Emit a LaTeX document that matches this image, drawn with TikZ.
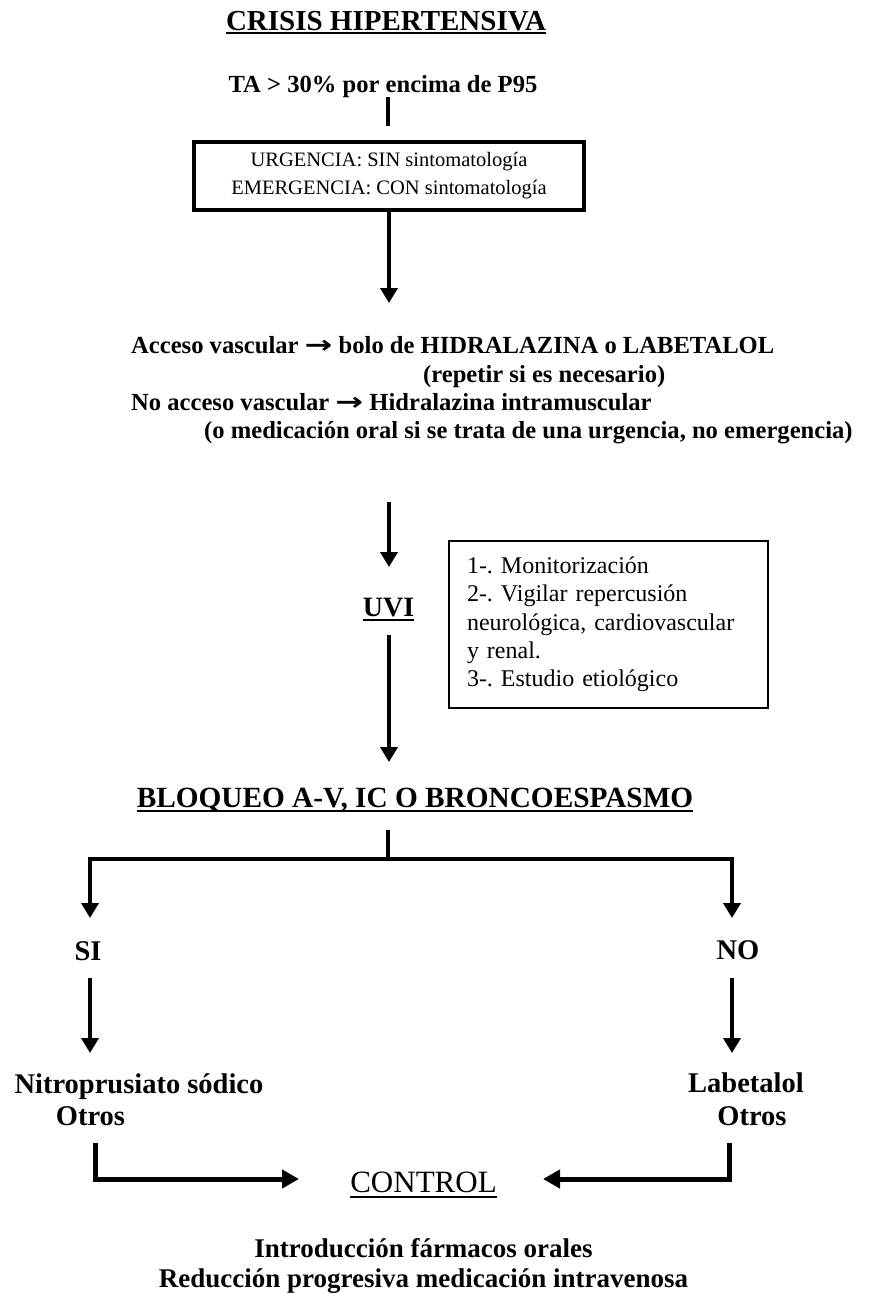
\documentclass[tikz,border=0pt]{standalone}
\usepackage{fontspec}
\usepackage{graphicx}
\setmainfont{Liberation Serif}
\newfontfamily\arrowfont{DejaVu Sans}
\usetikzlibrary{arrows.meta}
\newcommand{\fsz}[1]{\fontsize{#1}{#1}\selectfont}
\newcommand{\rarr}{\scalebox{1.35}[1]{\arrowfont\bfseries →}}
\frenchspacing
\begin{document}
\begin{tikzpicture}[x=1pt,y=-1pt,
  conn/.style={line width=4pt},
  arr/.style={line width=4pt,-{Triangle[width=17pt,length=15pt]}},
  barr/.style={line width=5pt,-{Triangle[width=18pt,length=17pt]}},
  ulin/.style={line width=2pt},
  lbl/.style={inner sep=0pt,anchor=base},
  lblw/.style={inner sep=0pt,anchor=base west,font=\fsz{24.6}\bfseries\frenchspacing}]
\useasboundingbox (0,0) rectangle (871,1294);

% title
\node[lbl,font=\fsz{29}\bfseries] (title) at (386,30) {CRISIS HIPERTENSIVA};
\draw[ulin] ([yshift=-3pt]title.base west) -- ([yshift=-3pt]title.base east);

\node[lbl,font=\fsz{24.6}\bfseries] (ta) at (383,92) {TA > 30\% por encima de P95};
\coordinate (l1s) at (388,97);
\coordinate (l1e) at (388,126);
\draw[conn] (l1s) -- (l1e);

\node[draw,line width=3.5pt,minimum width=390pt,minimum height=68pt,align=center,inner sep=0pt,
      font=\fontsize{20.5}{28}\selectfont] (box1) at (389,176)
  {URGENCIA: SIN sintomatología\\EMERGENCIA: CON sintomatología};
\coordinate (a1e) at (389,303);
\draw[arr] (box1.south) -- (a1e);

% access lines
\node[lblw] (acc1) at (131,353) {Acceso vascular \rarr{} bolo de HIDRALAZINA o LABETALOL};
\node[lblw] (acc2) at (423,382) {(repetir si es necesario)};
\node[lblw] (acc3) at (131,410) {No acceso vascular \rarr{} Hidralazina intramuscular};
\node[lblw] (acc4) at (204,438) {(o medicación oral si se trata de una urgencia, no emergencia)};

\coordinate (a2s) at (389,502);
\coordinate (a2e) at (389,567);
\draw[arr] (a2s) -- (a2e);

\node[lbl,font=\fsz{28}\bfseries] (uvi) at (388.5,616) {UVI};
\draw[ulin] ([yshift=-4pt]uvi.base west) -- ([yshift=-4pt]uvi.base east);

\coordinate (a3s) at (389,635);
\coordinate (a3e) at (389,762);
\draw[arr] (a3s) -- (a3e);

\node[draw,line width=1.5pt,text width=283pt,inner xsep=18pt,inner ysep=0pt,minimum height=167pt,align=left,
      font=\fontsize{24}{28.3}\selectfont\frenchspacing] (uvibox) at (608.5,624.5)
  {1-. Monitorización\\2-. Vigilar repercusión\\neurológica, cardiovascular\\y renal.\\3-. Estudio etiológico};

% bloqueo
\node[lbl,font=\fsz{29.3}\bfseries] (bloq) at (415,807) {BLOQUEO A-V, IC O BRONCOESPASMO};
\draw[ulin] ([yshift=-4pt]bloq.base west) -- ([yshift=-4pt]bloq.base east);

\coordinate (st) at (388,830);
\coordinate (sj) at (388,859);
\coordinate (cl) at (90,859);
\coordinate (cr) at (732,859);
\coordinate (sie) at (90,918);
\coordinate (noe) at (732,918);
\draw[conn] (st) -- (sj);
\draw[arr] (sj) -- (cl) -- (sie);
\draw[arr] (sj) -- (cr) -- (noe);

\node[lbl,font=\fsz{28.5}\bfseries] (si) at (88,960) {SI};
\node[lbl,font=\fsz{28.5}\bfseries] (no) at (738,959) {NO};

\coordinate (s2s) at (90,978);
\coordinate (s2e) at (90,1053);
\coordinate (n2s) at (732,978);
\coordinate (n2e) at (732,1053);
\draw[arr] (s2s) -- (s2e);
\draw[arr] (n2s) -- (n2e);

\node[lbl,font=\fsz{28.5}\bfseries] (nitro) at (139,1093) {Nitroprusiato sódico};
\node[lbl,font=\fsz{28.5}\bfseries] (otl) at (90.5,1125) {Otros};
\node[lbl,font=\fsz{28.5}\bfseries] (labe) at (746,1092) {Labetalol};
\node[lbl,font=\fsz{28.5}\bfseries] (otr) at (752,1125) {Otros};

\node[lbl,font=\fsz{31}] (ctrl) at (423.5,1192) {CONTROL};
\draw[ulin] ([yshift=-5pt]ctrl.base west) -- ([yshift=-5pt]ctrl.base east);

\coordinate (bls) at (95,1143);
\coordinate (blc) at (95,1179);
\coordinate (ble) at (299,1179);
\coordinate (brs) at (729,1143);
\coordinate (brc) at (729,1179);
\coordinate (bre) at (543,1179);
\draw[barr] (bls) -- (blc) -- (ble);
\draw[barr] (brs) -- (brc) -- (bre);

\node[lbl,font=\fsz{27}\bfseries] (intro) at (423.5,1257) {Introducción fármacos orales};
\node[lbl,font=\fsz{27}\bfseries] (reduc) at (423.5,1287) {Reducción progresiva medicación intravenosa};
\end{tikzpicture}
\end{document}
